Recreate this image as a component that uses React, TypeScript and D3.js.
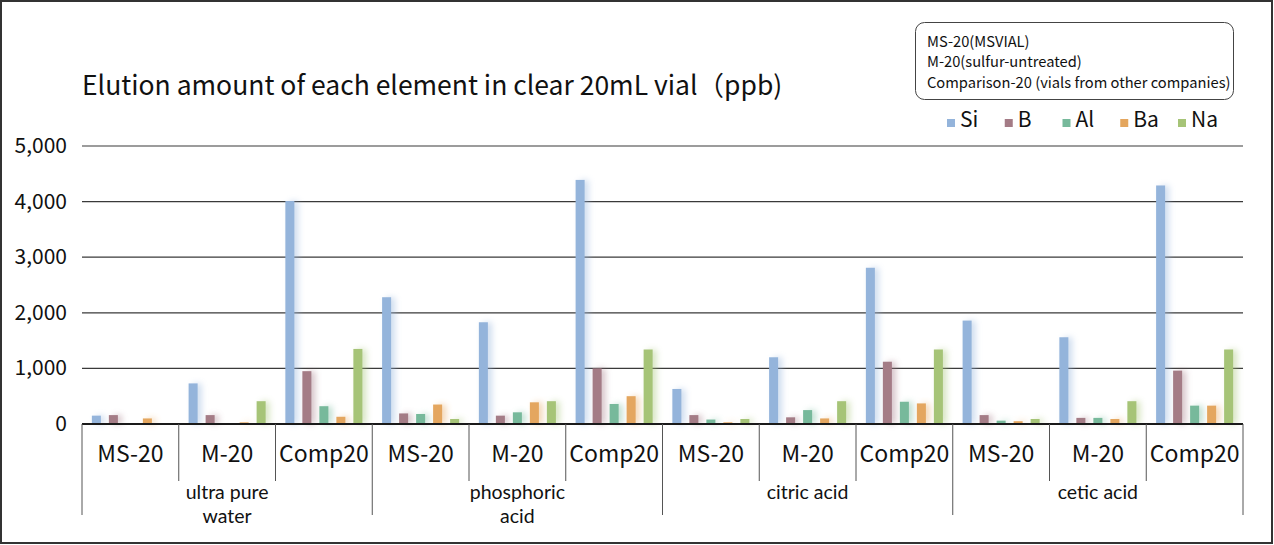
import { useRef, useEffect } from 'react';
import * as d3 from 'd3';

const W = 1274;
const H = 545;

const title = 'Elution amount of each element in clear 20mL vial（ppb)';
const groupLabels = [['ultra pure', 'water'], ['phosphoric', 'acid'], ['citric acid'], ['cetic acid']];
const vials = ['MS-20', 'M-20', 'Comp20'];
const elements = ['Si', 'B', 'Al', 'Ba', 'Na'];
const colors = ['#94b4db', '#a47b86', '#77b99b', '#e4a65e', '#a6c477'];
const legendNotes = [
  'MS-20(MSVIAL)',
  'M-20(sulfur-untreated)',
  'Comparison-20 (vials from other companies)',
];
const yTicks = [0, 1000, 2000, 3000, 4000, 5000];

// ppb, one value per group x vial (12)
const si = [150, 730, 4010, 2280, 1830, 4390, 630, 1200, 2810, 1860, 1560, 4290];
const b = [160, 160, 950, 190, 150, 1000, 160, 120, 1120, 160, 110, 960];
const al = [0, 0, 320, 180, 210, 360, 80, 250, 400, 60, 110, 330];
const ba = [100, 30, 130, 350, 390, 500, 30, 100, 370, 50, 90, 330];
const na = [0, 410, 1350, 90, 410, 1340, 90, 410, 1340, 90, 410, 1340];
const series = [si, b, al, ba, na];

export default function App() {
  const svgRef = useRef<SVGSVGElement>(null);

  useEffect(() => {
    if (!svgRef.current) return;
    document.body.style.margin = '0';

    const svg = d3.select(svgRef.current);
    svg.selectAll('*').remove();

    const font = '"Noto Sans CJK JP", "Noto Sans", sans-serif';
    const left = 82;
    const right = 1243;
    const top = 146;
    const bottom = 424;

    const cats = groupLabels.flatMap((_, gi) => vials.map((v) => `${gi}|${v}`));
    const x = d3.scaleBand<string>().domain(cats).range([left, right]);
    const inner = d3
      .scaleBand<string>()
      .domain(elements)
      .range([0, x.bandwidth()])
      .paddingInner(0.47)
      .paddingOuter(0.58);
    const y = d3.scaleLinear().domain([0, 5000]).range([bottom, top]);

    // soft glow to the right of each bar
    const defs = svg.append('defs');
    const f = defs
      .append('filter')
      .attr('id', 'glow')
      .attr('x', '-50%')
      .attr('y', '-5%')
      .attr('width', '300%')
      .attr('height', '110%');
    f.append('feOffset').attr('in', 'SourceGraphic').attr('dx', 4).attr('dy', 0).attr('result', 'off');
    f.append('feGaussianBlur').attr('in', 'off').attr('stdDeviation', 3).attr('result', 'blur');
    f.append('feComponentTransfer')
      .attr('in', 'blur')
      .attr('result', 'soft')
      .append('feFuncA')
      .attr('type', 'linear')
      .attr('slope', 0.45);
    const m = f.append('feMerge');
    m.append('feMergeNode').attr('in', 'soft');
    m.append('feMergeNode').attr('in', 'SourceGraphic');

    svg.append('rect').attr('width', W).attr('height', H).attr('fill', '#fff');

    // title
    svg
      .append('text')
      .attr('x', left)
      .attr('y', 95)
      .attr('font-family', font)
      .attr('font-size', 26.5)
      .attr('fill', '#111')
      .text(title);

    // gridlines
    svg
      .append('g')
      .selectAll('line')
      .data(yTicks.filter((t) => t > 0))
      .join('line')
      .attr('x1', left)
      .attr('x2', right)
      .attr('y1', (d) => y(d))
      .attr('y2', (d) => y(d))
      .attr('stroke', '#3a3a3a')
      .attr('stroke-width', 1.2);

    // y tick labels
    svg
      .append('g')
      .selectAll('text')
      .data(yTicks)
      .join('text')
      .attr('x', 67)
      .attr('y', (d) => y(d) + 7)
      .attr('text-anchor', 'end')
      .attr('font-family', font)
      .attr('font-size', 21)
      .attr('fill', '#111')
      .text((d) => d3.format(',')(d));

    // bars
    const bars = svg.append('g').attr('filter', 'url(#glow)');
    series.forEach((vals, si_) => {
      bars
        .append('g')
        .selectAll('rect')
        .data(vals)
        .join('rect')
        .attr('x', (_, i) => (x(cats[i]) as number) + (inner(elements[si_]) as number))
        .attr('width', inner.bandwidth())
        .attr('y', (d) => y(d))
        .attr('height', (d) => y(0) - y(d))
        .attr('fill', colors[si_]);
    });

    // zero axis
    svg
      .append('line')
      .attr('x1', left)
      .attr('x2', right)
      .attr('y1', bottom)
      .attr('y2', bottom)
      .attr('stroke', '#1a1a1a')
      .attr('stroke-width', 2);

    // category separators
    const edges = cats.map((c) => x(c) as number).concat([right]);
    svg
      .append('g')
      .selectAll('line')
      .data(edges)
      .join('line')
      .attr('x1', (d) => d)
      .attr('x2', (d) => d)
      .attr('y1', bottom)
      .attr('y2', (_, i) => (i % vials.length === 0 ? 515 : 481))
      .attr('stroke', '#555')
      .attr('stroke-width', 1);

    // vial labels
    svg
      .append('g')
      .selectAll('text')
      .data(cats)
      .join('text')
      .attr('x', (d) => (x(d) as number) + x.bandwidth() / 2)
      .attr('y', 462)
      .attr('text-anchor', 'middle')
      .attr('font-family', font)
      .attr('font-size', 23)
      .attr('fill', '#111')
      .text((d) => d.split('|')[1]);

    // group labels
    const groupW = x.bandwidth() * vials.length;
    groupLabels.forEach((lines, gi) => {
      const cx = left + groupW * gi + groupW / 2;
      lines.forEach((ln, li) => {
        svg
          .append('text')
          .attr('x', cx)
          .attr('y', 499 + li * 23.5)
          .attr('text-anchor', 'middle')
          .attr('font-family', 'Lato, sans-serif')
          .attr('font-size', 19.5)
          .attr('fill', '#111')
          .text(ln);
      });
    });

    // note box
    svg
      .append('rect')
      .attr('x', 915.5)
      .attr('y', 22.5)
      .attr('width', 318)
      .attr('height', 77)
      .attr('rx', 9)
      .attr('fill', '#fff')
      .attr('stroke', '#444')
      .attr('stroke-width', 1);
    svg
      .append('g')
      .selectAll('text')
      .data(legendNotes)
      .join('text')
      .attr('x', 927)
      .attr('y', (_, i) => 47 + i * 20.3)
      .attr('font-family', font)
      .attr('font-size', 14.7)
      .attr('fill', '#111')
      .text((d) => d);

    // element legend
    const lx = d3.scalePoint<string>().domain(elements).range([947, 1178]);
    const leg = svg
      .append('g')
      .selectAll('g')
      .data(elements)
      .join('g')
      .attr('transform', (d) => `translate(${lx(d)},127)`);
    leg
      .append('rect')
      .attr('y', -8)
      .attr('width', 8)
      .attr('height', 8)
      .attr('fill', (_, i) => colors[i]);
    leg
      .append('text')
      .attr('x', 13)
      .attr('font-family', font)
      .attr('font-size', 21)
      .attr('fill', '#111')
      .text((d) => d);

    // outer frame
    svg
      .append('rect')
      .attr('x', 1)
      .attr('y', 1)
      .attr('width', W - 3)
      .attr('height', H - 3)
      .attr('fill', 'none')
      .attr('stroke', '#333')
      .attr('stroke-width', 2);
  }, []);

  return <svg ref={svgRef} width={W} height={H} style={{ display: 'block' }} />;
}
